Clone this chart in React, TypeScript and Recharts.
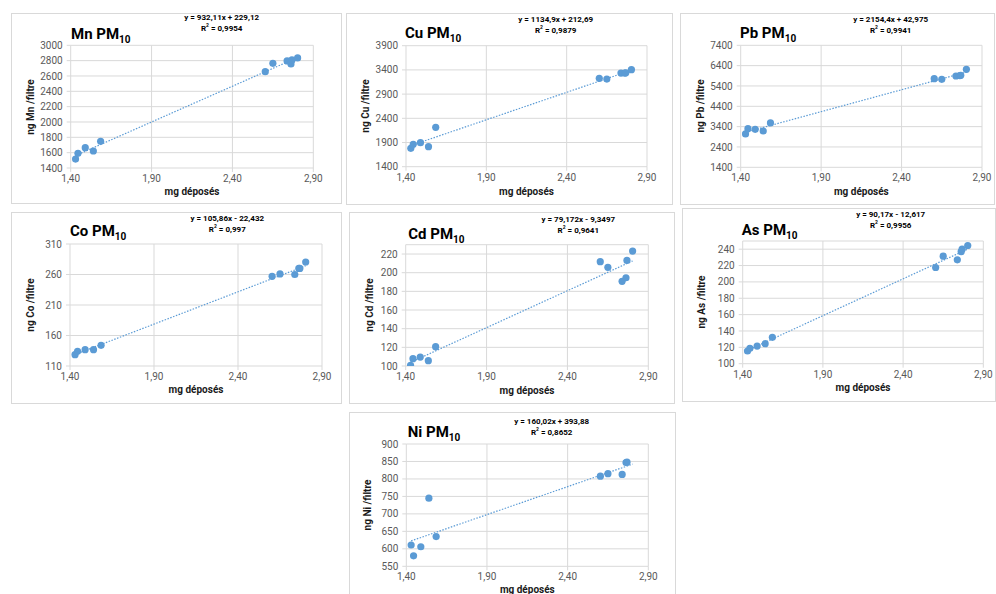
import React from 'react';
import { ScatterChart, Scatter, XAxis, YAxis, CartesianGrid } from 'recharts';

// mg déposés per filter (shared by every element)
const mgDeposes = [1.43, 1.445, 1.49, 1.54, 1.585, 2.603, 2.65, 2.738, 2.762, 2.768, 2.803];

// ng / filtre, one list per element (same order as mgDeposes)
const mnValues = [1517, 1591, 1665, 1622, 1748, 2656, 2765, 2796, 2757, 2809, 2835];
const cuValues = [1779, 1862, 1897, 1814, 2213, 3225, 3211, 3335, 3335, 3340, 3404];
const pbValues = [3039, 3301, 3268, 3186, 3580, 5760, 5727, 5891, 5910, 5924, 6218];
const coValues = [128.6, 134, 136.8, 136.8, 143.9, 257, 261, 260, 270, 270, 280.5];
const cdValues = [100.7, 107.9, 109.6, 105.7, 120.7, 211.8, 205.7, 190.7, 194.6, 213.2, 223.2];
const asValues = [115.5, 118.8, 121.6, 124.5, 132.2, 217.6, 231.4, 227, 237, 240, 244.5];
const niValues = [611, 580, 606, 745, 635, 808, 815, 813, 847, 848, null];

// trendline ends (read at first and last mg déposés)
const trendX = [1.43, 2.803];
const mnTrend = [1562, 2842];
const cuTrend = [1836, 3394];
const pbTrend = [3124, 6082];
const coTrend = [128.9, 274.3];
const cdTrend = [103.9, 212.6];
const asTrend = [116.3, 240.1];
const niTrend = [622.7, 842.4];

// axes
const xTicks = [1.4, 1.9, 2.4, 2.9];
const mnTicks = [1400, 1600, 1800, 2000, 2200, 2400, 2600, 2800, 3000];
const cuTicks = [1400, 1900, 2400, 2900, 3400, 3900];
const pbTicks = [1400, 2400, 3400, 4400, 5400, 6400, 7400];
const coTicks = [110, 160, 210, 260, 310];
const cdTicks = [100, 120, 140, 160, 180, 200, 220];
const asTicks = [100, 120, 140, 160, 180, 200, 220, 240];
const niTicks = [550, 600, 650, 700, 750, 800, 850, 900];

const elements = ['Mn', 'Cu', 'Pb', 'Co', 'Cd', 'As', 'Ni'];
const equations = [
  'y = 932,11x + 229,12',
  'y = 1134,9x + 212,69',
  'y = 2154,4x + 42,975',
  'y = 105,86x - 22,432',
  'y = 79,172x - 9,3497',
  'y = 90,17x - 12,617',
  'y = 160,02x + 393,88',
];
const r2Values = ['0,9954', '0,9879', '0,9941', '0,997', '0,9641', '0,9956', '0,8652'];

// page positions of each chart box, plot area and labels
const LAYOUT = [
  { box: { l: 11, t: 13, w: 331, h: 191 }, plot: { x0: 70.7, x1: 313.3, y0: 45.3, y1: 168 }, title: [71, 34], eq: [221.7, 18, 28.5], yt: 30.7, xt: 191.7 },
  { box: { l: 346, t: 13, w: 327, h: 192 }, plot: { x0: 406, x1: 647, y0: 45.7, y1: 166.7 }, title: [405, 32.7], eq: [555.7, 20, 31], yt: 365.7, xt: 191.7 },
  { box: { l: 680, t: 13, w: 315, h: 192 }, plot: { x0: 740.7, x1: 982, y0: 45.3, y1: 167.3 }, title: [740, 32.7], eq: [890.7, 20, 31], yt: 700.7, xt: 191.7 },
  { box: { l: 11, t: 212, w: 331, h: 192 }, plot: { x0: 70, x1: 322, y0: 244, y1: 366 }, title: [70, 230.7], eq: [227.3, 219, 230], yt: 30.7, xt: 389.7 },
  { box: { l: 349, t: 212, w: 326, h: 192 }, plot: { x0: 405.7, x1: 648.3, y0: 244.7, y1: 366 }, title: [408.3, 234], eq: [578.3, 219.5, 230.5], yt: 370, xt: 390.7 },
  { box: { l: 682, t: 208, w: 314, h: 194 }, plot: { x0: 742.7, x1: 983.3, y0: 241, y1: 363.7 }, title: [741.7, 230], eq: [890.7, 215, 226], yt: 701.7, xt: 388.3 },
  { box: { l: 349, t: 412, w: 327, h: 190 }, plot: { x0: 406.3, x1: 648.3, y0: 444, y1: 566.3 }, title: [407.7, 432], eq: [551.7, 422, 433], yt: 368.3, xt: 589.7 },
];

const PANELS = [
  { values: mnValues, trend: mnTrend, ticks: mnTicks, domain: [1400, 3000] },
  { values: cuValues, trend: cuTrend, ticks: cuTicks, domain: [1400, 3900] },
  { values: pbValues, trend: pbTrend, ticks: pbTicks, domain: [1400, 7400] },
  { values: coValues, trend: coTrend, ticks: coTicks, domain: [110, 310] },
  { values: cdValues, trend: cdTrend, ticks: cdTicks, domain: [100, 230] },
  { values: asValues, trend: asTrend, ticks: asTicks, domain: [100, 250] },
  { values: niValues, trend: niTrend, ticks: niTicks, domain: [550, 900] },
];

const BLUE = '#5B9BD5';
const GRID = '#d9d9d9';
const FONT = "Roboto, 'Liberation Sans', sans-serif";
const YW = 40;
const XH = 20;

const fmtX = (v: number) => v.toFixed(2).replace('.', ',');
const Dot = (props: any) => <circle cx={props.cx} cy={props.cy} r={3.6} fill={BLUE} />;
const NoDot = () => <g />;

const Panel = ({ idx }: { idx: number }) => {
  const p = PANELS[idx];
  const { box, plot, title, eq, yt, xt } = LAYOUT[idx];
  const el = elements[idx];
  const margin = {
    top: plot.y0 - box.t,
    right: box.l + box.w - plot.x1,
    bottom: box.t + box.h - plot.y1 - XH,
    left: plot.x0 - box.l - YW,
  };
  const points = mgDeposes
    .map((x, i) => ({ x, y: p.values[i] }))
    .filter((d) => d.y != null);
  const trend = trendX.map((x, i) => ({ x, y: p.trend[i] }));
  const tick = { fill: '#595959', fontSize: 10, fontFamily: FONT };

  return (
    <>
      <div
        style={{
          position: 'absolute',
          left: box.l,
          top: box.t,
          width: box.w,
          height: box.h,
          border: `1px solid ${GRID}`,
          boxSizing: 'border-box',
          background: '#fff',
        }}
      />
      <div style={{ position: 'absolute', left: box.l, top: box.t }}>
        <ScatterChart width={box.w} height={box.h} margin={margin}>
          <CartesianGrid stroke={GRID} strokeWidth={1} />
          <XAxis
            type="number"
            dataKey="x"
            domain={[1.4, 2.9]}
            ticks={xTicks}
            interval={0}
            tickFormatter={fmtX}
            height={XH}
            axisLine={false}
            tickLine={{ stroke: GRID }}
            tickSize={4}
            tickMargin={3}
            tick={tick}
            allowDataOverflow
          />
          <YAxis
            type="number"
            dataKey="y"
            domain={p.domain}
            ticks={p.ticks}
            interval={0}
            width={YW}
            axisLine={false}
            tickLine={{ stroke: GRID }}
            tickSize={4}
            tickMargin={4}
            tick={tick}
            allowDataOverflow
          />
          <Scatter
            data={trend}
            line={{ stroke: BLUE, strokeWidth: 1.2, strokeDasharray: '1.5 1.5' }}
            shape={NoDot}
            isAnimationActive={false}
          />
          <Scatter data={points} shape={Dot} isAnimationActive={false} />
        </ScatterChart>
      </div>

      {/* chart title */}
      <div
        style={{
          position: 'absolute',
          left: title[0],
          top: title[1],
          transform: 'translateY(-50%)',
          fontFamily: FONT,
          fontWeight: 700,
          fontSize: 15,
          color: '#000',
          whiteSpace: 'nowrap',
          lineHeight: 1,
        }}
      >
        {el} PM<sub style={{ fontSize: 10, verticalAlign: 'sub', lineHeight: 0 }}>10</sub>
      </div>

      {/* trendline equation */}
      {[0, 1].map((k) => (
        <div
          key={k}
          style={{
            position: 'absolute',
            left: eq[0],
            top: eq[1 + k],
            transform: 'translate(-50%, -50%)',
            fontFamily: FONT,
            fontWeight: 700,
            fontSize: 8,
            color: '#000',
            whiteSpace: 'nowrap',
            lineHeight: 1,
          }}
        >
          {k === 0 ? equations[idx] : <>R<sup style={{ fontSize: 5, lineHeight: 0 }}>2</sup> = {r2Values[idx]}</>}
        </div>
      ))}

      {/* axis titles */}
      <div
        style={{
          position: 'absolute',
          left: (plot.x0 + plot.x1) / 2,
          top: xt,
          transform: 'translate(-50%, -50%)',
          fontFamily: FONT,
          fontWeight: 700,
          fontSize: 10,
          color: '#1a1a1a',
          whiteSpace: 'nowrap',
          lineHeight: 1,
        }}
      >
        mg déposés
      </div>
      <div
        style={{
          position: 'absolute',
          left: yt,
          top: (plot.y0 + plot.y1) / 2,
          transform: 'translate(-50%, -50%) rotate(-90deg)',
          fontFamily: FONT,
          fontWeight: 700,
          fontSize: 10,
          color: '#1a1a1a',
          whiteSpace: 'nowrap',
          lineHeight: 1,
        }}
      >
        ng {el} /filtre
      </div>
    </>
  );
};

export default function App() {
  return (
    <div
      style={{
        position: 'absolute',
        left: 0,
        top: 0,
        width: 996,
        height: 594,
        overflow: 'hidden',
        background: '#fff',
      }}
    >
      {elements.map((el, i) => (
        <Panel key={el} idx={i} />
      ))}
    </div>
  );
}
